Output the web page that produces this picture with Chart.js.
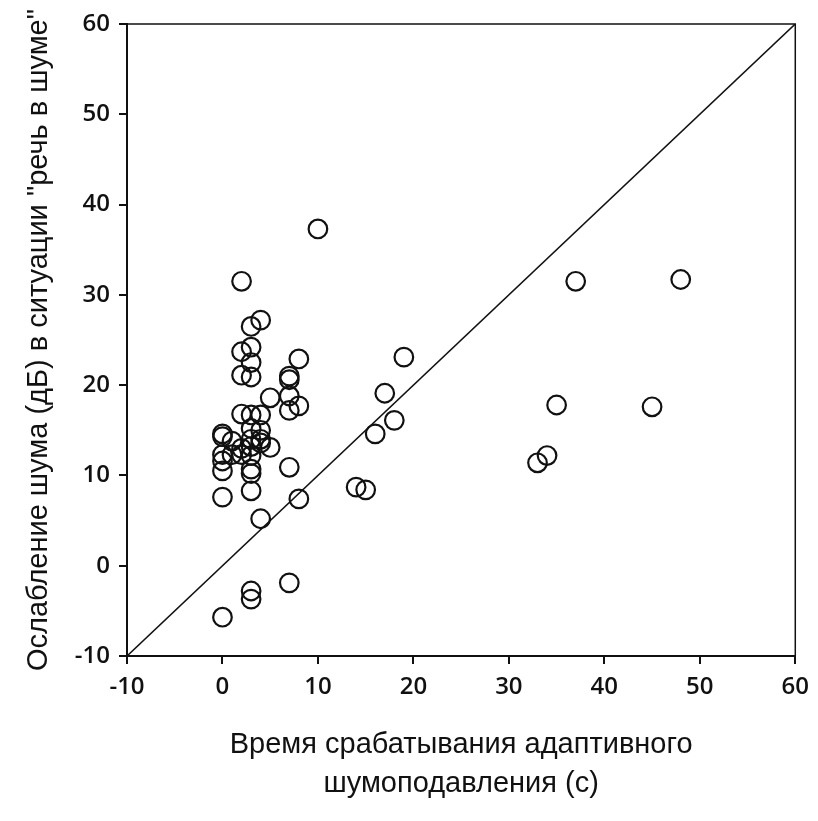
<!DOCTYPE html>
<html>
<head>
<meta charset="utf-8">
<script src="https://cdn.jsdelivr.net/npm/chart.js@4"></script>
<style>
  html, body { margin: 0; padding: 0; background: #fff; }
  #chart { display: block; }
</style>
</head>
<body>
<canvas id="chart" width="818" height="821"></canvas>
<script>
// attack time of adaptive noise reduction (s)
const attackTime = [
  0, 3, 3, 7, 4, 8, 14, 15, 0, 3, 7, 33, 34, 16, 18, 17, 19, 35, 45, 37,
  48, 10, 2, 4, 3, 2, 3, 2, 3, 3, 8, 7, 7, 5, 7, 8, 7, 2, 3, 4,
  3, 4, 4, 5, 0, 1, 0, 0, 0, 3, 3, 3, 2, 1, 3, 0, 3, 4, 2
];
// noise attenuation in "speech in noise" (dB)
const noiseReduction = [
  -5.7, -2.8, -3.7, -1.9, 5.2, 7.4, 8.7, 8.4, 7.6, 8.3, 10.9, 11.4, 12.2, 14.6, 16.1, 19.1, 23.1, 17.8, 17.6, 31.5,
  31.7, 37.3, 31.5, 27.2, 26.5, 23.7, 24.2, 21.1, 20.9, 22.5, 22.9, 21.0, 20.6, 18.6, 18.8, 17.7, 17.2, 16.8, 16.7, 16.7,
  15.2, 15.0, 14.0, 13.1, 14.6, 13.8, 12.3, 11.6, 10.5, 10.7, 10.2, 13.2, 13.0, 12.3, 12.2, 14.3, 14.0, 13.6, 12.3
];
// identity line y = x
const diagonal = [-10, 60];
const tickValues = [-10, 0, 10, 20, 30, 40, 50, 60];

const xTitle = ['Время срабатывания адаптивного', 'шумоподавления (с)'];
const yTitle = 'Ослабление шума (дБ) в ситуации "речь в шуме"';

const points = attackTime.map((x, i) => ({ x: x, y: noiseReduction[i] }));
const line = diagonal.map(v => ({ x: v, y: v }));

const frame = {
  id: 'frame',
  afterDatasetsDraw(chart) {
    const { ctx, chartArea: a } = chart;
    ctx.save();
    ctx.strokeStyle = '#111';
    ctx.lineWidth = 1.5;
    ctx.strokeRect(a.left, a.top, a.right - a.left, a.bottom - a.top);
    ctx.restore();
  }
};

const tickFont = { family: '"Open Sans", sans-serif', size: 24, weight: '600' };
const xTitleFont = { family: '"Liberation Sans", Arial, sans-serif', size: 29, lineHeight: 1.35 };
const yTitleFont = { family: '"Liberation Sans", Arial, sans-serif', size: 29, lineHeight: 1.35 };

new Chart(document.getElementById('chart').getContext('2d'), {
  type: 'scatter',
  data: {
    datasets: [
      {
        label: 'points',
        data: points,
        pointRadius: 9.3,
        pointHoverRadius: 9.3,
        pointBorderWidth: 2.2,
        borderColor: '#111',
        backgroundColor: 'rgba(0,0,0,0)'
      },
      {
        type: 'line',
        label: 'y = x',
        data: line,
        borderColor: '#111',
        borderWidth: 1.6,
        pointRadius: 0,
        fill: false
      }
    ]
  },
  options: {
    responsive: false,
    animation: false,
    layout: { padding: { left: 0, top: 24, right: 21, bottom: 0 } },
    plugins: { legend: { display: false }, tooltip: { enabled: false } },
    scales: {
      x: {
        type: 'linear',
        min: -10, max: 60,
        afterBuildTicks: s => { s.ticks = tickValues.map(v => ({ value: v })); },
        afterFit: s => { s.height = 165; },
        border: { color: '#111', width: 2 },
        grid: { drawOnChartArea: false, drawTicks: true, tickLength: 8, color: '#111', lineWidth: 2 },
        ticks: { color: '#111', font: tickFont, padding: 9, maxRotation: 0 },
        title: { display: true, text: xTitle, color: '#111', font: xTitleFont, padding: { bottom: 17 } }
      },
      y: {
        type: 'linear',
        min: -10, max: 60,
        afterBuildTicks: s => { s.ticks = tickValues.map(v => ({ value: v })); },
        afterFit: s => { s.width = 127; },
        border: { color: '#111', width: 2 },
        grid: { drawOnChartArea: false, drawTicks: true, tickLength: 8, color: '#111', lineWidth: 2 },
        ticks: { color: '#111', font: tickFont, padding: 9 },
        title: { display: true, text: yTitle, color: '#111', font: yTitleFont, padding: { top: 19 } }
      }
    }
  },
  plugins: [frame]
});
</script>
</body>
</html>
